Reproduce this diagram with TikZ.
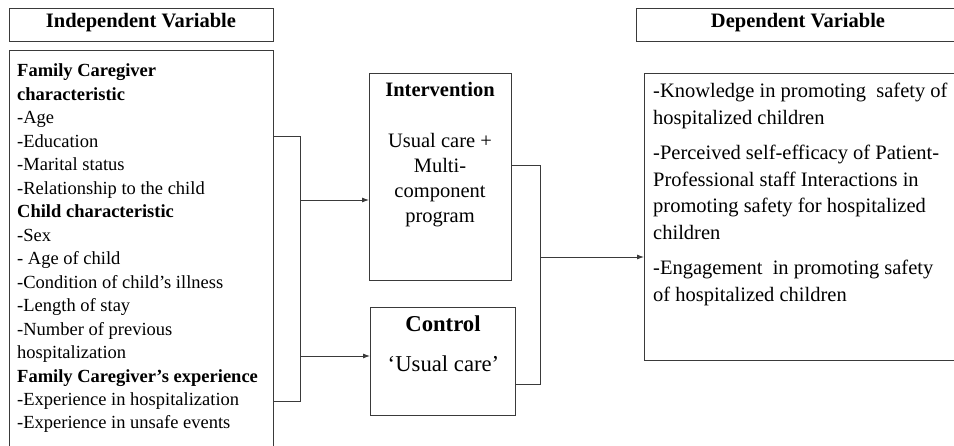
\documentclass[tikz,border=0pt]{standalone}
\usepackage{fontspec}
\setmainfont{Liberation Serif}
\usetikzlibrary{arrows.meta,positioning}
\definecolor{framegray}{HTML}{3A3A3A}

\tikzset{
  box/.style={draw=framegray,line width=0.9pt,inner sep=0pt,anchor=north west},
  conn/.style={draw=framegray,line width=0.9pt},
  arr/.style={conn,-{Latex[length=7pt,width=5pt]}},
  headtext/.style={font=\fontsize{20.5}{24}\selectfont\bfseries,inner sep=0pt,anchor=base},
  listtext/.style={font=\fontsize{18.5}{23.5}\selectfont,align=left,inner sep=0pt,anchor=base west},
  outtext/.style={font=\fontsize{20.5}{26.5}\selectfont,align=left,inner sep=0pt,anchor=base west},
  armtext/.style={font=\fontsize{20.5}{25}\selectfont,align=center,inner sep=0pt,anchor=base},
}

\begin{document}
\begin{tikzpicture}[x=1pt,y=-1pt]
  \useasboundingbox[fill=white] (0,0) rectangle (954,446);

  % boxes
  \node[box,minimum width=264pt,minimum height=33pt] (ivhead) at (9,8) {};
  \node[box,minimum width=264pt,minimum height=400pt] (ivbox) at (9,50) {};
  \node[box,minimum width=142pt,minimum height=207pt] (interv) at (369,73) {};
  \node[box,minimum width=145pt,minimum height=108pt] (ctrl) at (370,307) {};
  \node[box,minimum width=322pt,minimum height=33pt] (dvhead) at (636,8) {};
  \node[box,minimum width=314pt,minimum height=287pt] (dvbox) at (644,73) {};

  % headings
  \node[headtext] (ivtitle) at (141,28) {Independent Variable};
  \node[headtext] (dvtitle) at (798,28) {Dependent Variable};

  % independent variables (anchored at the last baseline)
  \node[listtext] (ivlist) at (17,429) {%
    \textbf{Family Caregiver}\\
    \textbf{characteristic}\\
    -Age\\
    -Education\\
    -Marital status\\
    -Relationship to the child\\
    \textbf{Child characteristic}\\
    -Sex\\
    - Age of child\\
    -Condition of child’s illness\\
    -Length of stay\\
    -Number of previous\\
    hospitalization\\
    \textbf{Family Caregiver’s experience}\\
    -Experience in hospitalization\\
    -Experience in unsafe events};

  % study arms
  \node[headtext] (intervtitle) at (440,97) {Intervention};
  \node[armtext] (intervtext) at (440,223) {Usual care +\\Multi-\\component\\program};
  \node[headtext,font=\fontsize{22.7}{26}\selectfont\bfseries] (ctrltitle) at (443,332) {Control};
  \node[armtext,font=\fontsize{22.7}{26}\selectfont] (ctrltext) at (443.5,372) {‘Usual care’};

  % outcomes (anchored at the last baseline)
  \node[outtext] (dvlist) at (653,301.5) {%
    -Knowledge in promoting~ safety of\\
    hospitalized children\\[9pt]
    -Perceived self-efficacy of Patient-\\
    Professional staff Interactions in\\
    promoting safety for hospitalized\\
    children\\[9pt]
    -Engagement~ in promoting safety\\
    of hospitalized children};

  % connectors
  \coordinate (brLtop) at (300,136);
  \coordinate (brLbot) at (300,401);
  \coordinate (forkI) at (300,200);
  \coordinate (forkC) at (300,356);
  \coordinate (brRtop) at (540,165);
  \coordinate (brRbot) at (540,384);
  \coordinate (forkD) at (540,257);

  \draw[conn] (brLtop -| ivbox.east) -- (brLtop) -- (brLbot) -- (brLbot -| ivbox.east);
  \draw[arr] (forkI) -- (forkI -| interv.west);
  \draw[arr] (forkC) -- (forkC -| ctrl.west);
  \draw[conn] (brRtop -| interv.east) -- (brRtop) -- (brRbot) -- (brRbot -| ctrl.east);
  \draw[arr] (forkD) -- (forkD -| dvbox.west);
\end{tikzpicture}
\end{document}
